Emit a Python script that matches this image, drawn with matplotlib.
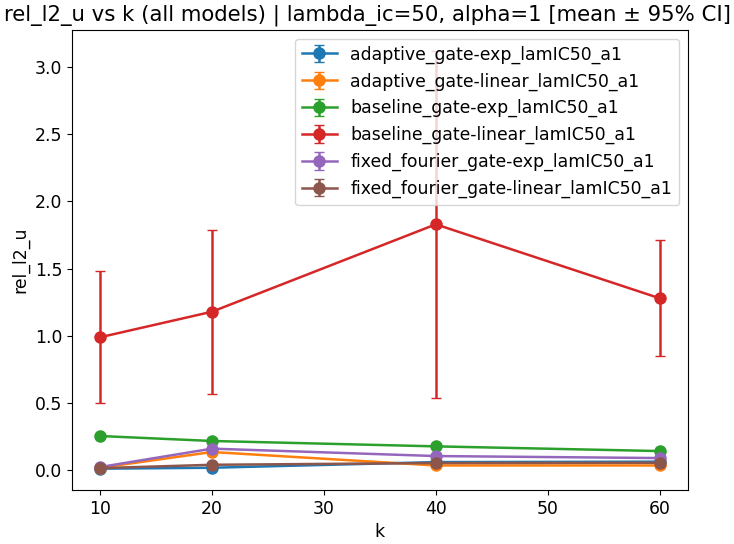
import matplotlib
matplotlib.use("Agg")
import matplotlib.pyplot as plt

k = [10, 20, 40, 60]
models = [
    "adaptive_gate-exp_lamIC50_a1",
    "adaptive_gate-linear_lamIC50_a1",
    "baseline_gate-exp_lamIC50_a1",
    "baseline_gate-linear_lamIC50_a1",
    "fixed_fourier_gate-exp_lamIC50_a1",
    "fixed_fourier_gate-linear_lamIC50_a1",
]
means = [
    [0.013, 0.020, 0.062, 0.065],
    [0.020, 0.137, 0.037, 0.037],
    [0.256, 0.219, 0.179, 0.144],
    [0.99, 1.18, 1.83, 1.28],
    [0.025, 0.162, 0.107, 0.092],
    [0.017, 0.042, 0.055, 0.057],
]
ci = [
    [0.004, 0.006, 0.008, 0.008],
    [0.005, 0.015, 0.006, 0.006],
    [0.010, 0.008, 0.008, 0.008],
    [0.49, 0.61, 1.29, 0.43],
    [0.005, 0.012, 0.008, 0.008],
    [0.004, 0.006, 0.006, 0.006],
]

plt.rcParams["font.size"] = 12.4
fig = plt.figure(figsize=(7.34, 5.44), dpi=100)
ax = fig.add_axes([0.098, 0.099, 0.839, 0.846])

for name, m, e in zip(models, means, ci):
    ax.errorbar(k, m, yerr=e, marker="o", markersize=8, linewidth=1.8,
                capsize=3.8, elinewidth=1.8, label=name)

ax.set_xlabel("k")
ax.set_ylabel("rel_l2_u")
# title is wider than the axes; centre it on the figure instead
fig.text(0.5, 0.962, "rel_l2_u vs k (all models) | lambda_ic=50, alpha=1 [mean ± 95% CI]",
         ha="center", va="baseline", fontsize=15.3)
ax.legend(loc="upper right")

fig.savefig("out.png")
